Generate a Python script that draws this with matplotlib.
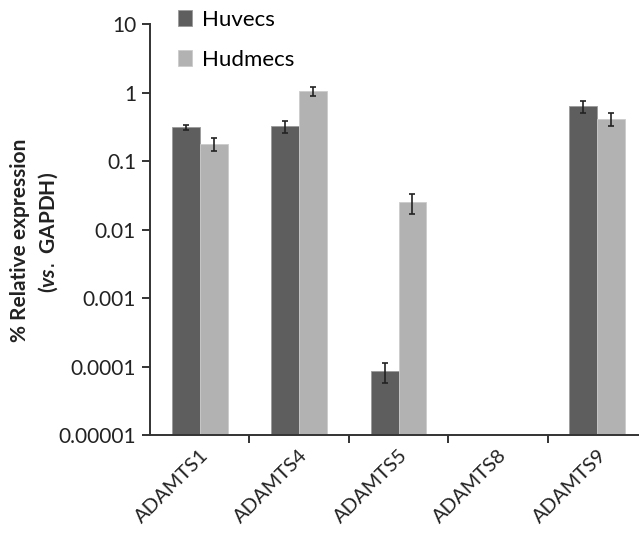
import matplotlib.pyplot as plt
import numpy as np

genes = ["ADAMTS1", "ADAMTS4", "ADAMTS5", "ADAMTS8", "ADAMTS9"]
huvecs = [0.31, 0.32, 0.000085, np.nan, 0.63]
huvecs_err = [0.03, 0.06, 0.000027, np.nan, 0.12]
hudmecs = [0.178, 1.05, 0.0248, np.nan, 0.41]
hudmecs_err = [0.04, 0.15, 0.008, np.nan, 0.09]
yticks = [0.00001, 0.0001, 0.001, 0.01, 0.1, 1, 10]
ytick_labels = ["0.00001", "0.0001", "0.001", "0.01", "0.1", "1", "10"]

plt.rcParams["font.family"] = ["Lato", "DejaVu Sans"]
plt.rcParams["mathtext.fontset"] = "custom"
plt.rcParams["mathtext.it"] = "Lato:italic:bold"

dark = "#5e5e5e"
light = "#b2b2b2"
axc = "#333333"

fig = plt.figure(figsize=(6.39, 5.33), dpi=100)
ax = fig.add_axes([150 / 639, 1 - 435 / 533, 497 / 639, 411 / 533])

x = np.arange(len(genes))
w = 0.28
err_kw = dict(ecolor="#222222", elinewidth=1.2, capsize=2.5, capthick=1.2)
ax.bar(x - w / 2, huvecs, w, yerr=huvecs_err, color=dark, edgecolor="#9a9a9a",
       linewidth=0.6, error_kw=err_kw, label="Huvecs")
ax.bar(x + w / 2, hudmecs, w, yerr=hudmecs_err, color=light, edgecolor="#cccccc",
       linewidth=0.6, error_kw=err_kw, label="Hudmecs")

ax.set_yscale("log")
ax.set_ylim(0.00001, 10)
ax.set_xlim(-0.5, len(genes) - 0.5)
ax.set_yticks(yticks)
ax.set_yticklabels(ytick_labels)
ax.yaxis.set_minor_locator(plt.NullLocator())
ax.tick_params(axis="y", which="major", labelsize=15, length=6, width=1.4,
               color=axc, pad=4, labelcolor="#222222")

ax.set_xticks(x[:-1] + 0.5)
ax.set_xticklabels([])
ax.tick_params(axis="x", which="major", length=6, width=1.4, color=axc)
ax.set_xticks(x, minor=True)
ax.set_xticklabels(genes, minor=True, rotation=45, ha="right",
                   rotation_mode="anchor", fontsize=14.5, color="#222222")
ax.tick_params(axis="x", which="minor", length=0, pad=8)

for s in ["top", "right"]:
    ax.spines[s].set_visible(False)
for s in ["left", "bottom"]:
    ax.spines[s].set_color(axc)
    ax.spines[s].set_linewidth(1.4)

fig.legend(loc="upper left", bbox_to_anchor=(169 / 639, 1 - 1 / 533),
           frameon=False, fontsize=16, handlelength=0.65, handleheight=0.7,
           handletextpad=0.45, labelspacing=0.9, borderaxespad=0)

fig.text(20 / 639, 1 - 240 / 533, "% Relative expression", rotation=90,
         ha="center", va="center", fontsize=15, fontweight="bold", color="#222222")
fig.text(48 / 639, 1 - 232 / 533, r"($\mathit{vs.}$ GAPDH)", rotation=90,
         ha="center", va="center", fontsize=15, fontweight="bold", color="#222222")

fig.savefig("out.png", dpi=100)
